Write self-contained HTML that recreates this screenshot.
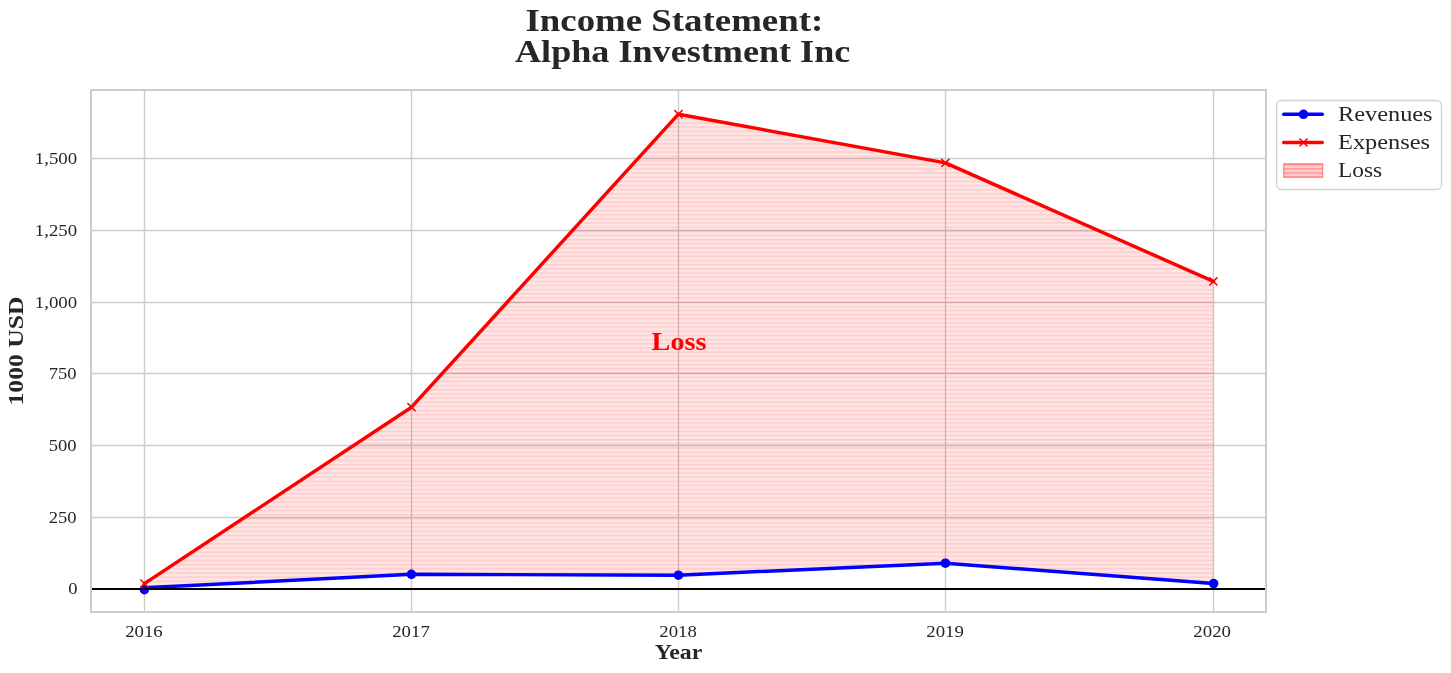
<!DOCTYPE html>
<html><head><meta charset="utf-8">
<style>
html,body{margin:0;padding:0;background:#fff;}
body{width:1451px;height:673px;overflow:hidden;}
svg{display:block;will-change:transform;}
text{font-family:"Liberation Serif", serif;fill:#262626;}
</style></head><body>
<svg width="1451" height="673" viewBox="0 0 1451 673">
<defs>
<pattern id="hat" patternUnits="userSpaceOnUse" width="200" height="4.16667" x="0" y="1.450">
<rect x="0" y="0" width="200" height="1.4" fill="#ff0000" fill-opacity="0.105"/>
</pattern>
<pattern id="hatL" patternUnits="userSpaceOnUse" width="200" height="4.16667" x="0" y="1.450">
<rect x="0" y="0" width="200" height="1.4" fill="#ff0000" fill-opacity="0.25"/>
</pattern>
</defs>
<rect width="1451" height="673" fill="#fff"/>
<g stroke="#cccccc" stroke-width="1.39"><line x1="91" y1="589.0" x2="1266" y2="589.0"/><line x1="91" y1="517.5" x2="1266" y2="517.5"/><line x1="91" y1="445.5" x2="1266" y2="445.5"/><line x1="91" y1="373.5" x2="1266" y2="373.5"/><line x1="91" y1="302.5" x2="1266" y2="302.5"/><line x1="91" y1="230.5" x2="1266" y2="230.5"/><line x1="91" y1="158.5" x2="1266" y2="158.5"/><line x1="144.5" y1="90" x2="144.5" y2="612"/><line x1="411.5" y1="90" x2="411.5" y2="612"/><line x1="678.5" y1="90" x2="678.5" y2="612"/><line x1="945.5" y1="90" x2="945.5" y2="612"/><line x1="1213.5" y1="90" x2="1213.5" y2="612"/></g>
<polygon points="144.4,583.6 411.5,407.2 678.4,114.2 945.4,162.9 1213.4,281.4 1213.6,583.6 945.4,563.2 678.4,575.2 411.4,574.3 144.4,587.8" fill="#ff0000" fill-opacity="0.106"/>
<polygon points="144.4,583.6 411.5,407.2 678.4,114.2 945.4,162.9 1213.4,281.4 1213.6,583.6 945.4,563.2 678.4,575.2 411.4,574.3 144.4,587.8" fill="url(#hat)"/>
<polyline points="144.4,587.8 411.4,574.3 678.4,575.2 945.4,563.2 1213.6,583.6" fill="none" stroke="#0000ff" stroke-width="3.47" stroke-linejoin="round" stroke-linecap="round"/>
<circle cx="144.4" cy="589.6" r="4.8" fill="#0000ff"/><circle cx="411.4" cy="574.3" r="4.8" fill="#0000ff"/><circle cx="678.4" cy="575.2" r="4.8" fill="#0000ff"/><circle cx="945.4" cy="563.2" r="4.8" fill="#0000ff"/><circle cx="1213.6" cy="583.6" r="4.8" fill="#0000ff"/>
<polyline points="144.4,583.6 411.5,407.2 678.4,114.2 945.4,162.9 1213.4,281.4" fill="none" stroke="#ff0000" stroke-width="3.47" stroke-linejoin="round" stroke-linecap="round"/>
<path d="M140.35,579.5500000000001L148.45000000000002,587.65M140.35,587.65L148.45000000000002,579.5500000000001M407.45,403.15L415.55,411.25M407.45,411.25L415.55,403.15M674.35,110.15L682.4499999999999,118.25M674.35,118.25L682.4499999999999,110.15M941.35,158.85L949.4499999999999,166.95000000000002M941.35,166.95000000000002L949.4499999999999,158.85M1209.3500000000001,277.34999999999997L1217.45,285.45M1209.3500000000001,285.45L1217.45,277.34999999999997" stroke="#ff0000" stroke-width="1.5" fill="none"/>
<line x1="91" y1="589" x2="1266" y2="589" stroke="#000" stroke-width="2"/>
<rect x="91" y="90" width="1175" height="522" fill="none" stroke="#cccccc" stroke-width="2"/>
<text x="679" y="350" text-anchor="middle" font-size="24.2" font-weight="bold" style="fill:#ff0000" textLength="54.8" lengthAdjust="spacingAndGlyphs">Loss</text>
<text x="77.6" y="593.80" text-anchor="end" font-size="16.3" textLength="9.3" lengthAdjust="spacingAndGlyphs">0</text><text x="76.6" y="523.00" text-anchor="end" font-size="16.3" textLength="27.8" lengthAdjust="spacingAndGlyphs">250</text><text x="76.6" y="451.00" text-anchor="end" font-size="16.3" textLength="27.8" lengthAdjust="spacingAndGlyphs">500</text><text x="76.6" y="379.00" text-anchor="end" font-size="16.3" textLength="27.8" lengthAdjust="spacingAndGlyphs">750</text><text x="77.15" y="308.00" text-anchor="end" font-size="16.3" textLength="42.4" lengthAdjust="spacingAndGlyphs">1,000</text><text x="77.15" y="236.00" text-anchor="end" font-size="16.3" textLength="42.4" lengthAdjust="spacingAndGlyphs">1,250</text><text x="77.15" y="164.00" text-anchor="end" font-size="16.3" textLength="42.4" lengthAdjust="spacingAndGlyphs">1,500</text>
<text x="143.95" y="637" text-anchor="middle" font-size="16.3" textLength="37.6" lengthAdjust="spacingAndGlyphs">2016</text><text x="411.00" y="637" text-anchor="middle" font-size="16.3" textLength="37.6" lengthAdjust="spacingAndGlyphs">2017</text><text x="678.05" y="637" text-anchor="middle" font-size="16.3" textLength="37.6" lengthAdjust="spacingAndGlyphs">2018</text><text x="945.05" y="637" text-anchor="middle" font-size="16.3" textLength="37.6" lengthAdjust="spacingAndGlyphs">2019</text><text x="1212.15" y="637" text-anchor="middle" font-size="16.3" textLength="37.6" lengthAdjust="spacingAndGlyphs">2020</text>
<text x="678.5" y="659" text-anchor="middle" font-size="21" font-weight="bold" textLength="47.7" lengthAdjust="spacingAndGlyphs">Year</text>
<text transform="translate(23,351) rotate(-90)" x="0" y="0" text-anchor="middle" font-size="21" font-weight="bold" textLength="109" lengthAdjust="spacingAndGlyphs">1000 USD</text>
<text x="674.35" y="31" text-anchor="middle" font-size="32" font-weight="bold" textLength="297.8" lengthAdjust="spacingAndGlyphs">Income Statement:</text>
<text x="682.65" y="62" text-anchor="middle" font-size="32" font-weight="bold" textLength="335.3" lengthAdjust="spacingAndGlyphs">Alpha Investment Inc</text>
<rect x="1276.6" y="100.45" width="164.9" height="89" rx="4.5" fill="#fff" fill-opacity="0.8" stroke="#d3d3d3" stroke-width="1.39"/>
<line x1="1283.7" y1="114.3" x2="1322.3" y2="114.3" stroke="#0000ff" stroke-width="3.47" stroke-linecap="round"/><circle cx="1303.5" cy="114.3" r="4.8" fill="#0000ff"/>
<line x1="1283.7" y1="142.5" x2="1322.3" y2="142.5" stroke="#ff0000" stroke-width="3.47" stroke-linecap="round"/><path d="M1299.45,138.45L1307.55,146.55M1299.45,146.55L1307.55,138.45" stroke="#ff0000" stroke-width="1.5"/>
<rect x="1283.7" y="163.7" width="39" height="13.6" fill="#ff0000" fill-opacity="0.2" stroke="#ff0000" stroke-opacity="0.35" stroke-width="1.4"/><rect x="1283.7" y="163.7" width="39" height="13.6" fill="url(#hatL)"/>
<text x="1338" y="120.6" font-size="21.7" textLength="94.6" lengthAdjust="spacingAndGlyphs">Revenues</text><text x="1338" y="148.8" font-size="21.7" textLength="92.1" lengthAdjust="spacingAndGlyphs">Expenses</text><text x="1338" y="177.2" font-size="21.7" textLength="44.2" lengthAdjust="spacingAndGlyphs">Loss</text>
</svg></body></html>
